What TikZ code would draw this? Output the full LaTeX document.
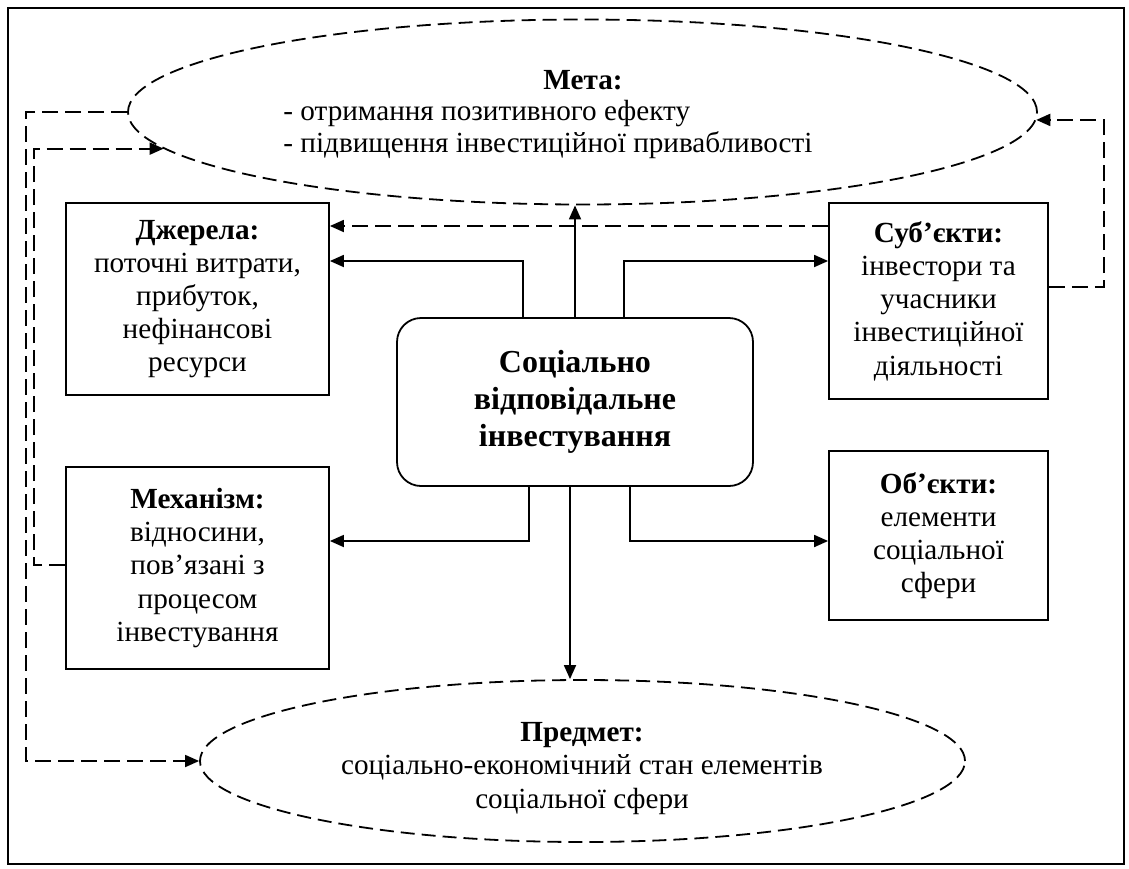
\documentclass[tikz,border=0pt]{standalone}
\usepackage{fontspec}
\setmainfont{Liberation Serif}
\usetikzlibrary{shapes.geometric,arrows.meta,positioning}

\tikzset{
	blk/.style={draw, rectangle, line width=0.9pt, align=center, inner sep=2pt,
		font=\fontsize{14.6}{16.6}\selectfont},
	oval/.style={draw, ellipse, line width=0.9pt, dash pattern=on 7pt off 3.5pt, inner sep=0pt},
	link/.style={line width=0.9pt, -{Triangle[length=7pt,width=6pt]}},
	dlink/.style={link, dash pattern=on 8pt off 3.5pt},
}

\begin{document}
\begin{tikzpicture}[x=0.5pt,y=-0.5pt]
	\useasboundingbox (0,0) rectangle (1129,868);
	\draw [line width=0.9pt] (8,8) rectangle (1124,864);
	% centre
	\node [blk, rounded corners=12pt, minimum width=178pt, minimum height=84pt,
		font=\fontsize{16}{18.5}\selectfont\bfseries] (sri) at (575,402)
		{Соціально\\відповідальне\\інвестування};
	% ovals
	\node [oval, minimum width=454.5pt, minimum height=92.5pt] (meta) at (582.5,112) {};
	\node [anchor=base, inner sep=0pt, font=\fontsize{14.6}{16.5}\selectfont\bfseries] (metahead) at (583,89) {Мета:};
	\node [anchor=base west, inner sep=0pt, align=left, font=\fontsize{14.6}{16}\selectfont] (metalist) at (283,152)
		{- отримання позитивного ефекту\\- підвищення інвестиційної привабливості};
	\node [oval, minimum width=382.5pt, minimum height=81pt] (pred) at (582.5,761) {};
	\node [anchor=base, inner sep=0pt, align=center, font=\fontsize{14.6}{16.7}\selectfont] (predtxt) at (582,808)
		{\textbf{Предмет:}\\соціально-економічний стан елементів\\соціальної сфери};
	% boxes
	\node [blk, minimum width=131.5pt, minimum height=96pt] (dzh) at (197.5,299)
		{\textbf{Джерела:}\\поточні витрати,\\прибуток,\\нефінансові\\ресурси};
	\node [blk, minimum width=131.5pt, minimum height=101pt] (mech) at (197.5,568)
		{\textbf{Механізм:}\\відносини,\\пов’язані з\\процесом\\інвестування};
	\node [blk, minimum width=109.5pt, minimum height=98pt] (sub) at (938.5,301)
		{\textbf{Суб’єкти:}\\інвестори та\\учасники\\інвестиційної\\діяльності};
	\node [blk, minimum width=109.5pt, minimum height=84.5pt] (obj) at (938.5,535.5)
		{\textbf{Об’єкти:}\\елементи\\соціальної\\сфери};
	% solid links
	\draw [link] ([xshift=-26pt]sri.north) |- ([yshift=19pt]dzh.east);
	\draw [link] (sri.north) -- (sri.north |- meta.south);
	\draw [link] ([xshift=24.5pt]sri.north) |- ([yshift=20pt]sub.west);
	\draw [link] ([xshift=-23pt]sri.south) |- ([yshift=13.5pt]mech.east);
	\coordinate (sdn) at ([xshift=-2.5pt]sri.south);
	\draw [link] (sdn) -- (sdn |- pred.north);
	\draw [link] ([xshift=27.5pt]sri.south) |- ([yshift=-2.75pt]obj.west);
	% dashed links
	\coordinate (dtop) at ([yshift=37.5pt]sub.west);
	\draw [dlink] (dtop) -- (dtop -| dzh.east);
	\draw [dlink] (meta.west) -- ++(-101,0) |- (pred.west);
	\draw [dlink] ([yshift=1.5pt]mech.west) -- ++(-31,0) |- (meta.185);
	\draw [dlink] ([yshift=7pt]sub.east) -- ++(55,0) |- (meta.-1);
\end{tikzpicture}
\end{document}
